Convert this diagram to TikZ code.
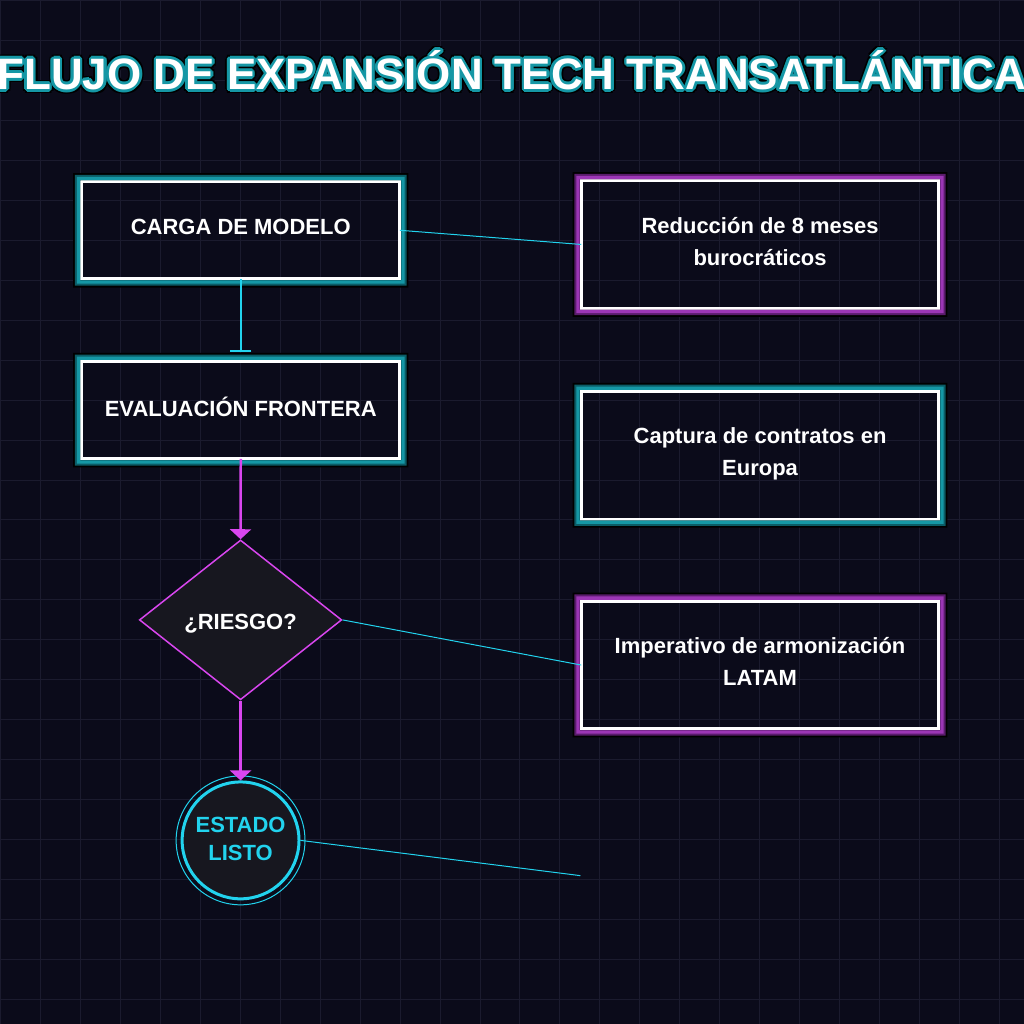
\documentclass[tikz,border=0pt]{standalone}
\usepackage{fontspec}
\setmainfont{Liberation Sans}
\usepackage{xcolor}
\definecolor{canvas}{HTML}{0B0B1A}
\definecolor{gridline}{HTML}{1B1B2E}
\definecolor{neoncyan}{HTML}{22D3EE}
\definecolor{neonpink}{HTML}{D946EF}
\definecolor{tealglow}{HTML}{1597A5}
\definecolor{tealdeep}{HTML}{0B5C66}
\definecolor{plumglow}{HTML}{9C36B5}
\definecolor{plumdeep}{HTML}{5A1C6C}
\definecolor{shapefill}{HTML}{17171F}
\usepackage{tikz}
\usetikzlibrary{arrows.meta, shapes.geometric, positioning, calc}

\newcommand{\headline}{FLUJO DE EXPANSIÓN TECH TRANSATLÁNTICA}
% glow frame around a box: #1 node, #2 light band, #3 dark band
\newcommand{\glowframe}[3]{%
  \fill[black, even odd rule]
    ([shift={(-8.6,-8.6)}]#1.south west) rectangle ([shift={(8.6,8.6)}]#1.north east)
    ([shift={(-1.5,-1.5)}]#1.south west) rectangle ([shift={(1.5,1.5)}]#1.north east);
  \fill[#3, even odd rule]
    ([shift={(-6.8,-6.8)}]#1.south west) rectangle ([shift={(6.8,6.8)}]#1.north east)
    ([shift={(-1.5,-1.5)}]#1.south west) rectangle ([shift={(1.5,1.5)}]#1.north east);
  \fill[#2, even odd rule]
    ([shift={(-4.8,-4.8)}]#1.south west) rectangle ([shift={(4.8,4.8)}]#1.north east)
    ([shift={(-1.5,-1.5)}]#1.south west) rectangle ([shift={(1.5,1.5)}]#1.north east);
}

\tikzset{
  stage/.style={draw=white, line width=3pt, outer sep=0pt, minimum width=318.4pt,
    minimum height=97.4pt, text=white, align=center,
    font=\bfseries\fontsize{22}{32}\selectfont,
    execute at end node={\rule[-7pt]{0pt}{0pt}}},
  outcome/.style={stage, minimum width=358pt, minimum height=127.7pt},
  headtext/.style={anchor=base, font=\bfseries\fontsize{44}{50}\selectfont},
  link/.style={neoncyan, line width=1pt},
}

\begin{document}
\begin{tikzpicture}[x=1pt, y=1pt]
  % background and grid
  \fill[canvas] (0,0) rectangle (1024,-1024);
  \draw[gridline, line width=1pt] (0,-1024) grid[step=40pt] (1024,0);
  \useasboundingbox (0,0) rectangle (1024,-1024);

  % title
  \foreach \a in {0,30,...,330}
    \node[headtext, text=black] (title-edge-\a) at ([shift={(\a:4.2)}]512,-89) {\headline};
  \foreach \a in {0,30,...,330}
    \node[headtext, text=tealglow] (title-glow-\a) at ([shift={(\a:2.6)}]512,-89) {\headline};
  \node[headtext, text=white] (title) at (512,-89) {\headline};

  % left column
  \node[stage] (carga) at (240.5,-230) {CARGA DE MODELO};
  \node[stage] (evaluacion) at (240.5,-410) {EVALUACIÓN FRONTERA};
  \node[diamond, draw=neonpink, fill=shapefill, line width=1.5pt, inner sep=2pt,
    minimum width=202.6pt, minimum height=160pt, text=white,
    font=\bfseries\fontsize{22}{26}\selectfont,
    execute at begin node={\rule{0pt}{22pt}}] (riesgo) at (240.3,-620) {¿RIESGO?};
  \node[circle, draw=neoncyan, fill=shapefill, line width=3pt, minimum size=117pt,
    inner sep=0pt, text=neoncyan, align=center,
    font=\bfseries\fontsize{22}{28}\selectfont,
    execute at end node={\rule[-4pt]{0pt}{0pt}}] (estado) at (240.3,-840.7) {ESTADO\\LISTO};
  \draw[neoncyan, line width=1pt] (estado.center) circle (64.5);

  % right column
  \node[outcome] (reduccion) at (760.3,-244.2) {Reducción de 8 meses\\burocráticos};
  \node[outcome] (captura) at (760.3,-455.2) {Captura de contratos en\\Europa};
  \node[outcome] (armonizacion) at (760.3,-665.2) {Imperativo de armonización\\LATAM};
  \coordinate (siguiente) at (580.5,-876);

  \glowframe{carga}{tealglow}{tealdeep}
  \glowframe{evaluacion}{tealglow}{tealdeep}
  \glowframe{reduccion}{plumglow}{plumdeep}
  \glowframe{captura}{tealglow}{tealdeep}
  \glowframe{armonizacion}{plumglow}{plumdeep}

  % flow
  \draw[neoncyan, line width=2.5pt, shorten >=9.5pt, -{Bar[width=21pt, line width=2pt]}]
    (carga.south) -- (evaluacion.north);
  \draw[neonpink, line width=2.5pt, -{Triangle[width=21pt, length=10pt]}]
    (evaluacion.south) -- (riesgo.north);
  \draw[neonpink, line width=2.5pt, -{Triangle[width=21pt, length=10pt]}]
    (riesgo.south) -- (estado.north);

  % links to the notes
  \draw[link] (carga.east) -- (reduccion.west);
  \draw[link] (riesgo.east) -- (armonizacion.west);
  \draw[link] (estado.east) -- (siguiente);
\end{tikzpicture}
\end{document}
